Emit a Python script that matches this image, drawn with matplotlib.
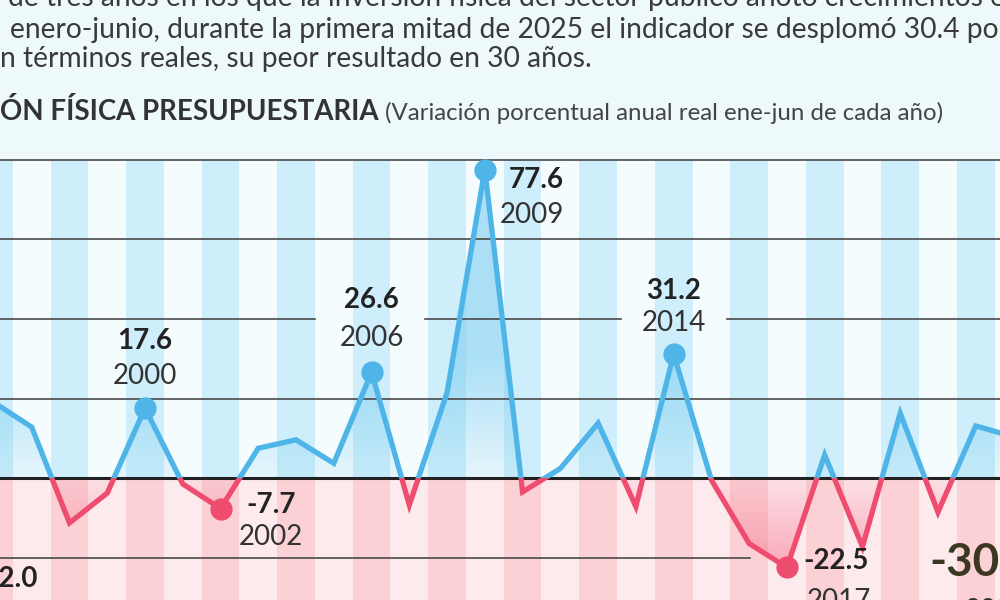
import numpy as np
import matplotlib
matplotlib.use("Agg")
import matplotlib.pyplot as plt
from matplotlib.patches import Rectangle
from matplotlib.path import Path

plt.rcParams['font.family'] = ['Lato', 'DejaVu Sans']

# Inversion fisica presupuestaria, variacion % anual real ene-jun
years = list(range(1995, 2026))
values = [-32.0, 19.0, 12.8, -11.3, -3.8, 17.6, -1.5, -7.7, 7.5, 9.6,
          3.7, 26.6, -6.8, 21.5, 77.6, -3.5, 2.4, 13.8, -7.2, 31.2,
          -0.5, -16.5, -22.5, 5.8, -17.3, 16.3, -8.6, 13.1, 10.4, 5.0,
          -30.4]

# highlighted years and label texts
label_years = [1995, 2000, 2002, 2006, 2009, 2014, 2017, 2025]
marker_years = [2000, 2002, 2006, 2009, 2014, 2017]

header_lines = [
    "de tres años en los que la inversión física del sector público anotó crecimientos en",
    "enero-junio, durante la primera mitad de 2025 el indicador se desplomó 30.4 por ciento",
    "n términos reales, su peor resultado en 30 años.",
]
title_bold = "ÓN FÍSICA PRESUPUESTARIA"
title_note = "(Variación porcentual anual real ene-jun de cada año)"

grid_full = [80, 60, 20]

BLUE = '#4fb4e8'
PINK = '#ef4d70'
BG = '#eef9fc'

fig = plt.figure(figsize=(10, 6), dpi=100, facecolor=BG)
ax = fig.add_axes([0, 0, 1, 1])
ax.set_facecolor(BG)
ax.axis('off')

# vertical stripes, one per year
for yr in years:
    even = yr % 2 == 0
    ax.bar(yr, 80, width=1.0, bottom=0, color='#cdeefa' if even else '#f4fcfe', zorder=0)
    ax.bar(yr, -40, width=1.0, bottom=0, color='#fbd1d5' if even else '#fdeaed', zorder=0)

# grid lines
for g in grid_full:
    ax.axhline(g, color='#4a4a4a', lw=1.2, zorder=2.5)
for x0, x1 in [(1990, 2004.5), (2007.42, 2012.6), (2015.41, 2030)]:
    ax.plot([x0, x1], [40, 40], color='#4a4a4a', lw=1.2, zorder=2.5)
ax.plot([1990, 2016.02], [-20, -20], color='#4a4a4a', lw=1.2, zorder=2.5)
ax.axhline(0, color='#222222', lw=2.2, zorder=2.6)

# gradient fills between line and zero
x = np.array(years, dtype=float)
v = np.array(values)
pos = ax.fill_between(x, v, 0, where=v >= 0, interpolate=True, color='none', lw=0)
neg = ax.fill_between(x, v, 0, where=v <= 0, interpolate=True, color='none', lw=0)

def gradient(coll, rgb, y0, y1, ramp, a0, a1):
    ys = np.linspace(y0, y1, 256)
    alpha = a0 + (a1 - a0) * np.clip((ys - y0) / ramp, 0, 1)
    img = np.zeros((256, 1, 4))
    img[:, 0, :3] = matplotlib.colors.to_rgb(rgb)
    img[:, 0, 3] = alpha
    lo, hi = min(y0, y1), max(y0, y1)
    im = ax.imshow(img[::-1] if y1 < y0 else img, extent=[1990, 2030, lo, hi],
                   origin='lower', aspect='auto', zorder=2, interpolation='bilinear')
    path = Path.make_compound_path(*coll.get_paths())
    im.set_clip_path(path, transform=ax.transData)

gradient(pos, '#7ccdf2', 0, 90, 30, 0.12, 0.6)
gradient(neg, '#f7718e', 0, -40, -25, 0.08, 0.6)
ax.set_xlim(1996.16, 2022.643)
ax.set_ylim(-30.69, 120.25)

# line, blue above zero and pink below
above = Rectangle((1990, 0), 40, 200, transform=ax.transData)
below = Rectangle((1990, -200), 40, 200, transform=ax.transData)
l1, = ax.plot(x, v, color=BLUE, lw=3.8, zorder=3, solid_joinstyle='miter')
l1.set_clip_path(above)
l2, = ax.plot(x, v, color=PINK, lw=3.8, zorder=3, solid_joinstyle='miter')
l2.set_clip_path(below)

for yr in marker_years:
    val = values[years.index(yr)]
    ax.plot(yr, val, 'o', ms=15, color=BLUE if val > 0 else PINK, zorder=4)

# labels: (dx, dy) in pixels for value and year, alignment
label_pos = {
    1995: ((16, 26), (16, -10), 'left'),
    2000: ((0, 67), (0, 32), 'center'),
    2002: ((26, 4), (18, -28), 'left'),
    2006: ((0, 72), (0, 34), 'center'),
    2009: ((24, -10), (15, -45), 'left'),
    2014: ((0, 63), (0, 31), 'center'),
    2017: ((16, 6), (20, -34), 'left'),
    2025: ((-160, 36), (-124, -12), 'left'),
}
for yr in label_years:
    val = values[years.index(yr)]
    (vx, vy), (yx, yy), ha = label_pos[yr]
    big = yr == 2025
    ax.annotate(f"{val:.1f}", (yr, val), xytext=(vx, vy), textcoords='offset pixels',
                ha=ha, va='center', fontsize=33 if big else 20, fontweight='bold',
                color='#3b3720' if big else '#222222', zorder=5, annotation_clip=False)
    ax.annotate(str(yr), (yr, val), xytext=(yx, yy), textcoords='offset pixels',
                ha=ha, va='center', fontsize=20, color='#333333', zorder=5,
                annotation_clip=False)

# header text
header_x = [8, 10, 0]
header_base = [6, 38, 67]
for line, hx, hb in zip(header_lines, header_x, header_base):
    fig.text(hx / 1000, 1 - hb / 600, line, fontsize=20.3,
             color='#3a3a3a', va='baseline', ha='left')
fig.text(0.0, 1 - 120 / 600, title_bold, fontsize=19.9, fontweight='bold',
         color='#333333', va='baseline', ha='left')
fig.text(0.385, 1 - 120 / 600, title_note, fontsize=17.3, color='#444444',
         va='baseline', ha='left')

fig.savefig('out.png', dpi=100, facecolor=BG)
